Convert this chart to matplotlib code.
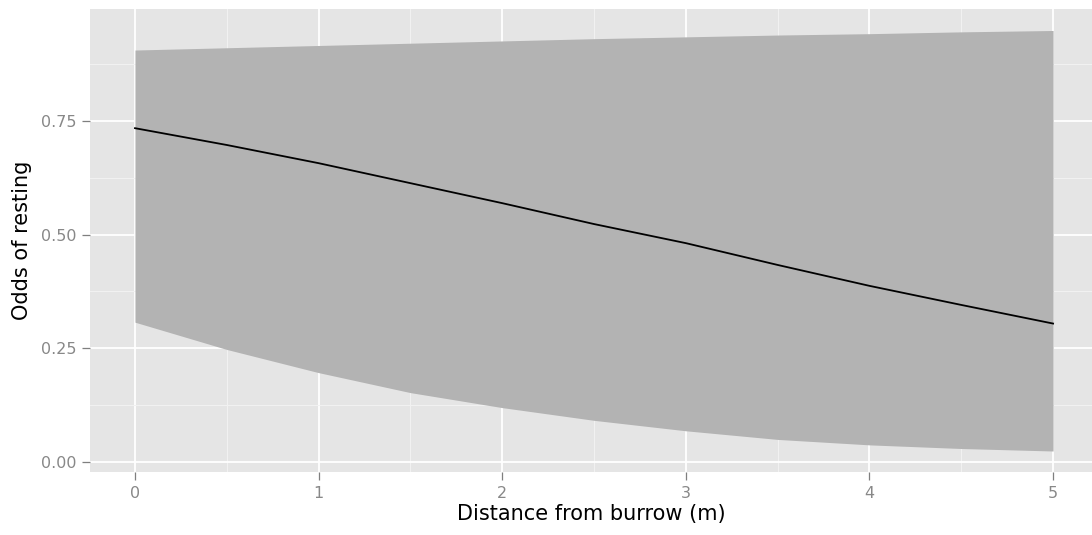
import numpy as np
import matplotlib
matplotlib.use("Agg")
import matplotlib.pyplot as plt

# values
distance = [0, 0.5, 1, 1.5, 2, 2.5, 3, 3.5, 4, 4.5, 5]
odds = [0.734, 0.697, 0.657, 0.613, 0.569, 0.523, 0.481, 0.433, 0.387, 0.345, 0.304]
lower = [0.307, 0.247, 0.196, 0.152, 0.119, 0.091, 0.068, 0.049, 0.037, 0.029, 0.0235]
upper = [0.906, 0.911, 0.916, 0.921, 0.926, 0.931, 0.935, 0.939, 0.942, 0.946, 0.949]

x_ticks = [0, 1, 2, 3, 4, 5]
y_ticks = [0.00, 0.25, 0.50, 0.75]
y_ticklabels = ["0.00", "0.25", "0.50", "0.75"]

plt.rcParams['font.family'] = ['DejaVu Sans']

W, H = 1092, 535
fig = plt.figure(figsize=(W / 100, H / 100), dpi=100)
ax = fig.add_axes([90 / W, (H - 472) / H, (W - 90) / W, 463 / H])

ax.set_facecolor('#E5E5E5')
ax.fill_between(distance, lower, upper, color='#B3B3B3', linewidth=0, zorder=2)
ax.plot(distance, odds, color='black', linewidth=1.3, zorder=3)

ax.set_xlim(-0.245, 5.212)
ax.set_ylim(-0.0227, 0.9963)
ax.set_xticks(x_ticks)
ax.set_yticks(y_ticks)
ax.set_yticklabels(y_ticklabels)
ax.set_xticks([0.5, 1.5, 2.5, 3.5, 4.5], minor=True)
ax.set_yticks([0.125, 0.375, 0.625, 0.875], minor=True)

ax.grid(which='major', color='white', linewidth=1.3, zorder=1)
ax.grid(which='minor', color='#F2F2F2', linewidth=0.7, zorder=1)
ax.set_axisbelow(True)
for s in ax.spines.values():
    s.set_visible(False)

ax.tick_params(which='major', length=6, width=0.9, color='#7F7F7F',
               labelcolor='#888888', labelsize=11.5, pad=4)
ax.tick_params(which='minor', length=0)

ax.set_xlabel('Distance from burrow (m)', fontsize=15, color='black', labelpad=2)
ax.set_ylabel('Odds of resting', fontsize=15, color='black', labelpad=6)

fig.savefig('out.png', dpi=100)
